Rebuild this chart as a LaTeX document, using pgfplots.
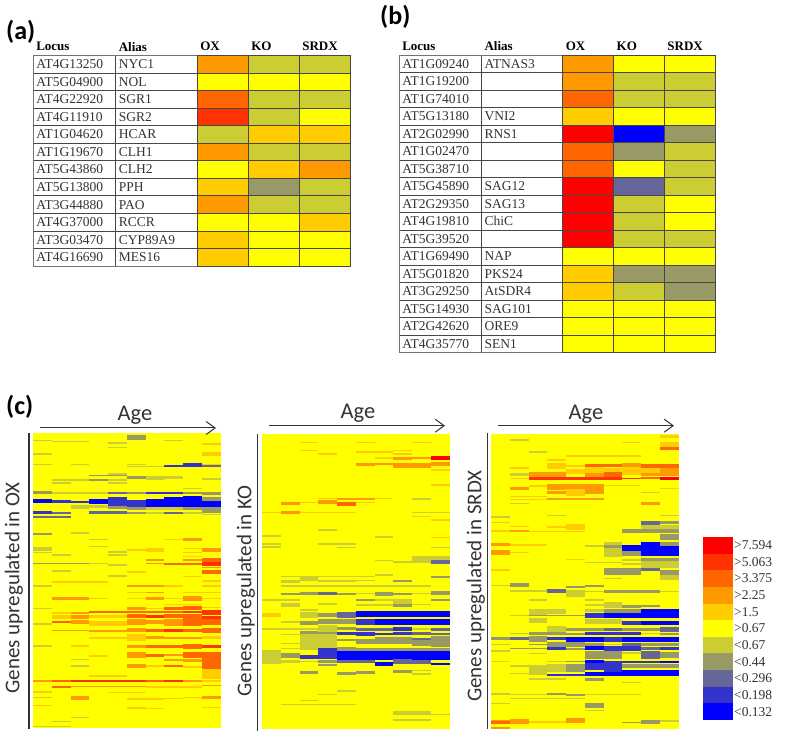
\documentclass[border=0pt]{standalone}
\usepackage{fontspec}
\setmainfont{Liberation Serif}
\newfontfamily\calib{Carlito}
\usepackage{pgfplots}
\usepackage{pgfplotstable}
\pgfplotsset{compat=1.18}
\usetikzlibrary{arrows.meta}

\definecolor{ink}{HTML}{333333}
\newcommand\tbfont{\fontsize{13.5bp}{14bp}\selectfont\color{ink}}
\newcommand\hdfont{\fontsize{13bp}{14bp}\selectfont\bfseries\color{black}}
\newcommand\agefont{\fontsize{22.5bp}{24bp}\selectfont\calib\color{ink}}
\newcommand\genesfont{\fontsize{21bp}{24bp}\selectfont\calib\color{ink}}
\newcommand\panelfont{\fontsize{26bp}{28bp}\selectfont\calib\bfseries\color{black}}

% one rectangle: starts at the point, w columns wide, h zoomed px high
\pgfdeclareplotmark{cell}{%
  \pgfpathrectangle{\pgfpoint{0pt}{-\ch*0.16667bp}}{\pgfpoint{\cw*18.75bp}{\ch*0.33333bp}}%
  \pgfusepathqfill}
\pgfdeclareplotmark{framedcell}{%
  \pgfpathrectangle{\pgfpoint{0pt}{-\ch*0.16667bp}}{\pgfpoint{\cw*18.75bp}{\ch*0.33333bp}}%
  \pgfusepathqfillstroke}

\pgfplotsset{
  colormap={level}{
    rgb255(0)=(0,0,255) rgb255(1)=(51,51,204) rgb255(2)=(102,102,153)
    rgb255(3)=(153,153,102) rgb255(4)=(204,204,51) rgb255(5)=(255,255,0)
    rgb255(6)=(255,204,0) rgb255(7)=(255,153,0) rgb255(8)=(255,102,0)
    rgb255(9)=(255,51,0) rgb255(10)=(255,0,0)},
  levels/.style={colormap name=level, point meta min=0, point meta max=10},
  tbl/.style={levels, scale only axis, y dir=reverse, clip=false,
    xmin=-3.22, xmax=3, xtick={-3.22,-1.6,0,1,2,3},
    xticklabels={}, yticklabels={}, tick style={draw=none},
    grid=major, grid style={color=black!72, line width=0.8bp},
    axis line style={color=black!55, line width=0.8bp}},
  heat/.style={levels, scale only axis, hide axis, width=187.5bp, height=295bp,
    xmin=0, xmax=10, y dir=reverse, clip=true, anchor=south west},
  cells/.style={scatter, only marks, mark=cell, scatter src=explicit,
    visualization depends on={\thisrow{w} \as \cw},
    visualization depends on={\thisrow{h}+1.5 \as \ch}},
  rowcells/.style={scatter, only marks, mark=framedcell, scatter src=explicit,
    scatter/use mapped color={fill=mapped color, draw=black!72},
    mark options={line width=0.8bp},
    visualization depends on={2.72 \as \cw},
    visualization depends on={52.6 \as \ch}},
  keycells/.style={scatter, only marks, mark=cell, scatter src=explicit,
    visualization depends on={1.6 \as \cw},
    visualization depends on={50 \as \ch}},
}
\newcommand\tabrow[3]{%
  \node[anchor=west,inner sep=0pt,font=\tbfont] at (axis cs:-3.16,#1) {#2};
  \node[anchor=west,inner sep=0pt,font=\tbfont] at (axis cs:-1.54,#1) {#3};}
\newcommand\tabhead{%
  \node[anchor=west,inner sep=0pt,font=\hdfont] at (axis cs:-3.16,-1) {Locus};
  \node[anchor=west,inner sep=0pt,font=\hdfont] at (axis cs:-1.54,-1) {Alias};
  \node[anchor=west,inner sep=0pt,font=\hdfont] at (axis cs:0.06,-1) {OX};
  \node[anchor=west,inner sep=0pt,font=\hdfont] at (axis cs:1.06,-1) {KO};
  \node[anchor=west,inner sep=0pt,font=\hdfont] at (axis cs:2.06,-1) {SRDX};}

\pgfplotstableread{
x w y h c
0 10 573.5 883 5
0 1 155 3 4
1 2 158 3 4
5 1 145 13 3
7 1 155 3 4
4 1 163 4 4
4 1 175 3 4
9 1 165 3 6
0 1 195 3 4
9 1 195 8 6
0 1 226 3 4
2 1 226 3 4
5 1 226 3 4
9 1 226 3 6
5 2 233 3 4
7 1 232 5 1
8 1 228 8 1
9 1 232 5 2
4 1 255 4 4
3 2 259 3 3
5 1 265 9 3
6 1 266 12 4
7 1 266 8 4
1 2 272 3 4
3 1 272 4 3
4 1 272 4 4
9 1 270 3 4
1 1 281 3 4
4 1 282 3 4
8 1 298 3 4
0 1 310 6 3
1 2 311 4 4
3 1 311 4 4
4 1 312 6 2
5 1 312 5 3
6 2 311 6 1
8 1 312 5 3
9 1 313 5 3
0 1 335 10 0
1 1 337 10 1
2 1 339 6 1
3 1 337 14 0
4 1 337 24 1
5 1 343 18 1
6 1 342 24 0
7 1 339 28 0
8 1 337 30 0
9 1 330 10 3
9 1 344 17 0
2 1 354 11 4
3 1 352 8 4
4 1 355 6 3
5 1 358 6 3
6 2 359 7 4
8 1 358 8 3
9 1 363 16 3
0 1 371 7 1
1 1 371 5 2
3 1 370 5 2
4 1 371 8 2
5 1 371 5 3
6 1 372 3 4
7 1 372 5 2
8 1 372 3 4
9 1 376 4 4
0 1 384 4 2
1 1 384 4 2
0 1 434 6 3
2 1 431 4 4
3 1 451 3 4
3 1 472 3 4
7 1 451 3 6
8 1 452 8 7
0 1 476 3 4
0 1 482 3 4
0 1 490 3 4
4 1 488 3 4
4 1 497 3 4
1 1 497 3 4
5 1 482 3 6
6 1 482 12 6
8 1 478 3 6
8 1 490 3 6
9 1 482 10 7
8 1 502 3 6
6 1 512 3 7
8 1 512 5 7
9 1 512 8 8
0 3 523 3 3
3 1 523 3 4
4 1 527 3 4
6 1 523 3 7
7 1 523 5 8
8 1 524 6 8
9 1 525 10 9
1 1 545 3 4
9 1 547 10 8
5 1 548 3 6
9 1 535 3 7
4 1 560 3 4
8 1 562 3 6
1 3 578 3 6
9 1 575 3 6
0 1 590 3 4
5 2 590 5 7
7 1 590 3 6
9 1 590 3 6
5 1 610 3 6
6 1 610 3 7
8 1 610 3 6
9 1 610 3 6
1 2 628 7 7
3 1 628 3 6
5 1 628 3 6
6 1 628 7 7
7 1 628 3 6
8 1 628 12 7
9 1 628 3 6
7 2 645 3 6
0 1 657 3 4
5 1 657 8 7
6 1 657 3 6
7 1 657 8 8
8 1 657 10 8
9 1 655 3 6
3 2 668 5 8
5 1 668 6 8
1 1 672 4 6
2 1 672 4 7
6 1 668 6 8
7 1 668 6 8
8 1 668 7 9
9 1 670 12 9
1 1 682 10 6
2 1 682 10 7
3 2 682 9 6
5 1 680 10 8
6 1 681 8 9
7 1 681 10 8
8 1 681 12 8
9 1 684 10 9
1 1 697 5 8
2 1 698 10 7
3 2 702 12 6
5 1 698 15 7
6 1 698 12 7
7 1 698 20 7
8 1 698 20 8
9 1 697 16 8
0 1 703 3 4
1 2 723 4 7
3 1 724 3 7
4 1 724 5 7
5 1 722 12 7
6 1 723 8 8
7 1 723 8 9
8 1 723 10 8
9 1 723 12 8
3 2 745 3 6
5 1 745 20 6
6 1 745 8 7
7 2 745 5 7
9 1 745 8 6
0 1 770 3 4
2 1 770 3 6
5 1 771 10 7
6 1 771 8 8
7 1 771 10 8
8 1 771 14 8
9 1 771 10 9
5 1 797 15 7
6 1 797 8 8
7 1 797 5 7
8 1 797 17 8
9 1 797 20 8
3 1 800 3 6
2 1 810 3 4
7 1 812 3 7
8 1 813 6 7
9 1 824 30 8
2 1 830 4 4
5 1 830 12 7
6 1 830 3 6
7 1 830 6 8
8 1 832 3 6
9 1 854 28 6
3 2 860 3 6
0 1 875 4 7
1 1 875 5 8
2 3 875 5 9
5 1 875 5 9
6 1 875 5 8
7 1 875 5 9
8 1 875 4 7
9 1 875 4 6
1 1 892 6 8
2 4 891 3 7
6 3 892 3 6
9 1 888 3 7
0 1 907 3 6
4 2 908 3 6
0 1 923 3 4
2 1 926 10 7
5 2 928 3 6
7 1 927 3 6
8 1 923 3 6
9 1 923 6 7
0 1 948 3 6
5 1 954 4 6
6 1 957 3 6
9 1 954 3 6
2 1 984 3 4
1 1 995 3 4
0 2 1011 3 4
}\tabOX

\pgfplotstableread{
x w y h c
0 10 574.5 885 5
2 1 157 3 6
5 1 157 3 6
8 1 157 3 6
2 1 181 3 6
5 2 186 3 6
7 1 181 3 6
3 1 192 3 6
7 1 192 3 6
6 1 204 3 6
7 1 205 6 7
8 1 205 5 7
9 1 204 8 10
5 1 224 8 7
6 1 222 6 7
7 1 226 12 7
8 1 226 12 7
9 1 222 8 7
9 1 240 3 6
9 1 285 3 6
3 1 326 3 6
4 2 326 4 7
6 1 326 3 6
8 1 326 4 4
2 1 337 3 6
3 1 335 10 7
1 1 341 8 7
4 1 342 8 8
5 1 338 3 6
0 1 367 3 6
1 1 367 6 7
2 3 367 3 6
8 2 367 3 4
8 1 380 3 6
9 1 390 3 6
3 1 420 4 4
0 1 437 4 4
6 1 442 5 4
9 1 442 3 6
0 1 461 4 4
3 2 461 4 4
0 1 472 4 4
4 1 472 3 4
9 1 472 3 4
8 2 505 12 4
6 1 512 3 4
7 1 516 3 4
8 1 516 3 4
9 1 516 8 2
6 1 555 6 4
1 5 560 3 4
9 1 560 5 3
2 1 566 14 4
1 1 575 6 4
3 2 573 3 4
5 1 572 3 4
7 1 574 5 3
1 8 588 3 4
1 1 611 5 3
2 1 611 6 3
3 1 611 6 2
4 1 611 5 3
5 1 611 3 4
6 1 611 10 3
7 1 611 5 3
8 1 611 3 4
9 1 609 10 3
0 2 630 3 4
5 1 630 6 3
7 1 634 12 4
9 1 630 5 3
6 1 630 3 4
1 1 645 8 4
3 1 642 3 4
5 2 645 3 4
7 1 646 8 3
8 1 644 3 4
2 1 660 3 4
0 1 674 10 6
2 1 675 14 4
3 1 675 12 3
4 1 675 14 2
5 5 672 17 0
1 1 696 6 4
2 1 698 10 3
3 2 695 15 3
5 1 695 16 1
6 4 695 17 0
0 2 717 3 4
2 1 717 3 4
3 1 725 40 4
4 1 716 6 3
5 1 718 8 2
6 1 718 8 2
7 1 717 8 1
8 1 717 3 4
9 1 719 8 2
1 1 733 3 4
2 1 728 10 3
3 1 730 5 3
4 1 731 8 1
5 1 731 10 1
6 1 731 5 1
7 1 731 8 1
8 1 731 6 2
9 1 731 5 2
2 1 757 46 4
3 1 757 36 4
4 1 750 5 3
5 1 755 15 3
6 1 752 20 3
7 1 752 20 3
8 1 758 18 3
9 1 755 30 3
8 1 746 5 2
1 1 760 3 4
1 1 775 3 4
4 1 778 10 3
5 5 780 10 3
0 1 800 40 4
1 1 796 14 3
2 1 800 10 1
3 1 791 32 1
4 6 796 24 0
1 1 815 8 4
2 1 815 3 4
3 1 815 6 3
4 1 815 8 2
5 1 815 6 2
6 1 822 8 0
7 1 815 14 2
8 1 816 8 2
9 1 822 6 0
3 1 825 3 3
2 1 848 6 3
4 1 850 6 3
5 1 847 8 3
7 1 845 6 3
8 1 841 3 4
8 1 852 3 4
4 1 903 3 4
3 1 914 3 4
2 1 932 3 4
1 4 943 3 4
7 2 969 8 4
9 1 973 3 4
7 2 990 4 4
}\tabKO

\pgfplotstableread{
x w y h c
0 10 574.5 885 5
9 1 140 6 6
1 1 150 4 4
7 1 157 3 6
9 1 165 14 6
9 1 175 6 8
2 1 186 3 4
4 4 198 3 6
3 1 210 3 6
3 1 228 14 6
4 1 228 3 6
5 1 227 8 8
6 1 227 8 8
7 1 226 10 7
8 1 228 12 8
9 1 228 12 8
1 1 234 3 6
4 1 245 14 6
5 1 243 20 6
6 1 243 14 6
7 1 243 24 6
8 1 242 14 6
9 1 246 24 7
1 1 253 6 4
2 1 254 16 7
3 1 254 16 7
5 1 254 10 7
6 1 254 16 8
8 1 253 6 7
1 1 265 3 6
2 5 265 6 9
7 1 265 3 9
8 1 265 4 8
9 1 265 6 10
2 1 288 3 6
3 1 291 14 7
4 1 291 14 7
5 1 291 14 7
6 2 287 3 6
1 1 296 8 7
9 1 296 3 6
3 1 308 8 7
4 1 308 20 6
5 1 306 8 7
8 1 308 3 4
1 2 320 3 6
1 2 328 3 6
3 3 327 5 7
1 1 340 3 4
8 1 341 6 7
3 1 377 3 4
9 1 377 3 4
0 1 381 3 4
0 1 397 3 6
8 1 399 8 2
9 1 398 8 3
1 1 410 3 6
3 1 411 3 6
4 1 412 16 6
8 1 412 14 4
9 1 412 14 4
0 1 423 3 6
1 1 423 6 7
2 3 424 3 6
7 3 423 8 3
9 1 441 14 3
6 1 462 10 4
0 1 463 6 7
1 2 465 3 6
5 1 469 4 4
6 1 472 14 3
7 1 474 16 0
8 1 477 38 0
9 1 461 10 3
9 1 482 28 0
0 1 487 14 7
1 1 487 3 6
6 1 488 24 4
7 1 490 12 3
4 1 508 3 6
7 1 510 3 4
8 1 509 10 3
9 1 510 10 3
5 2 518 3 4
7 1 522 3 4
8 1 523 20 4
9 1 523 20 4
0 1 540 3 6
6 2 544 18 3
8 1 538 8 2
9 1 550 20 3
6 1 565 3 4
9 1 562 12 4
0 1 586 3 4
1 1 585 8 3
4 1 590 4 3
5 1 588 6 3
1 2 603 3 4
3 1 603 8 2
4 1 610 20 4
5 1 604 3 4
6 3 604 6 3
9 1 604 3 4
2 1 630 3 4
5 1 630 3 4
5 1 645 3 4
6 1 645 14 4
7 1 650 6 3
8 1 648 5 3
2 1 665 16 4
3 1 665 14 4
5 1 662 8 4
6 2 663 8 3
8 1 664 10 0
9 1 664 14 0
1 1 677 3 4
2 2 677 3 3
4 1 677 3 3
5 1 676 14 1
6 4 676 14 0
2 1 691 14 4
5 1 695 12 4
6 1 695 12 4
7 1 700 10 1
8 2 700 10 0
3 1 716 16 4
4 2 718 8 3
6 1 718 8 2
7 2 718 8 3
9 1 718 14 2
1 1 730 3 4
2 2 731 6 3
4 1 731 5 3
5 3 731 6 1
8 1 731 3 4
9 1 731 4 3
0 1 746 6 3
1 1 746 6 2
2 1 748 16 3
3 1 746 6 1
4 2 748 12 0
6 1 748 12 1
7 3 748 12 0
0 1 763 3 4
2 1 764 3 3
3 2 763 14 3
5 1 763 8 3
6 1 763 3 4
7 1 763 6 2
8 1 763 6 3
9 1 763 6 3
1 2 776 3 3
3 1 776 8 1
4 1 776 5 3
5 1 774 12 0
6 2 775 12 1
8 1 775 6 2
9 1 775 8 1
0 1 783 3 4
2 1 790 3 4
5 2 795 20 3
7 1 788 5 4
8 1 795 20 2
9 1 795 18 3
0 1 815 3 6
3 1 815 3 4
4 1 815 3 3
5 1 816 8 0
6 3 816 6 1
9 1 816 6 0
5 1 830 20 1
6 1 832 25 1
7 3 828 12 3
1 1 828 3 4
3 1 834 24 4
2 1 840 30 4
4 1 834 25 3
1 1 851 3 4
3 2 855 5 1
5 2 852 8 0
7 3 849 18 0
2 2 867 3 4
5 1 868 6 3
7 1 877 3 4
0 1 912 3 4
1 2 914 3 4
3 1 912 6 3
4 1 914 4 3
5 3 914 3 4
1 4 926 3 4
0 1 940 3 4
5 1 947 12 3
5 1 962 3 4
0 1 991 3 7
0 1 997 6 8
1 1 994 12 7
2 2 996 3 6
4 1 992 12 7
7 1 998 3 3
8 1 996 12 3
9 1 992 5 4
0 1 1013 5 7
}\tabSR

\begin{document}
\begin{tikzpicture}
\path[use as bounding box] (0bp,0bp) rectangle (787bp,747bp);

% panel (a)
\begin{axis}[tbl, at={(33bp,481bp)}, anchor=south west, width=317bp, height=210.5bp,
    ymin=-0.5, ymax=11.5, ytick={-0.5,0.5,...,11.5}]
\addplot[rowcells] table[meta=c] {
x y c
0 0 7
1 0 4
2 0 4
0 1 5
1 1 5
2 1 5
0 2 8
1 2 4
2 2 4
0 3 9
1 3 4
2 3 5
0 4 4
1 4 6
2 4 6
0 5 7
1 5 4
2 5 4
0 6 5
1 6 6
2 6 7
0 7 6
1 7 3
2 7 4
0 8 7
1 8 4
2 8 4
0 9 5
1 9 5
2 9 6
0 10 6
1 10 5
2 10 5
0 11 6
1 11 5
2 11 5
};
\tabhead
\tabrow{0}{AT4G13250}{NYC1}
\tabrow{1}{AT5G04900}{NOL}
\tabrow{2}{AT4G22920}{SGR1}
\tabrow{3}{AT4G11910}{SGR2}
\tabrow{4}{AT1G04620}{HCAR}
\tabrow{5}{AT1G19670}{CLH1}
\tabrow{6}{AT5G43860}{CLH2}
\tabrow{7}{AT5G13800}{PPH}
\tabrow{8}{AT3G44880}{PAO}
\tabrow{9}{AT4G37000}{RCCR}
\tabrow{10}{AT3G03470}{CYP89A9}
\tabrow{11}{AT4G16690}{MES16}
\end{axis}

% panel (b)
\begin{axis}[tbl, at={(399bp,394.3bp)}, anchor=south west, width=316bp, height=297.7bp,
    ymin=-0.5, ymax=16.5, ytick={-0.5,0.5,...,16.5}]
\addplot[rowcells] table[meta=c] {
x y c
0 0 7
1 0 5
2 0 5
0 1 7
1 1 4
2 1 4
0 2 8
1 2 4
2 2 4
0 3 6
1 3 5
2 3 5
0 4 10
1 4 0
2 4 3
0 5 8
1 5 3
2 5 4
0 6 8
1 6 5
2 6 4
0 7 10
1 7 2
2 7 4
0 8 10
1 8 4
2 8 5
0 9 10
1 9 4
2 9 5
0 10 10
1 10 4
2 10 4
0 11 5
1 11 5
2 11 5
0 12 6
1 12 3
2 12 3
0 13 6
1 13 4
2 13 3
0 14 5
1 14 5
2 14 5
0 15 5
1 15 5
2 15 5
0 16 5
1 16 5
2 16 5
};
\tabhead
\tabrow{0}{AT1G09240}{ATNAS3}
\tabrow{1}{AT1G19200}{}
\tabrow{2}{AT1G74010}{}
\tabrow{3}{AT5G13180}{VNI2}
\tabrow{4}{AT2G02990}{RNS1}
\tabrow{5}{AT1G02470}{}
\tabrow{6}{AT5G38710}{}
\tabrow{7}{AT5G45890}{SAG12}
\tabrow{8}{AT2G29350}{SAG13}
\tabrow{9}{AT4G19810}{ChiC}
\tabrow{10}{AT5G39520}{}
\tabrow{11}{AT1G69490}{NAP}
\tabrow{12}{AT5G01820}{PKS24}
\tabrow{13}{AT3G29250}{AtSDR4}
\tabrow{14}{AT5G14930}{SAG101}
\tabrow{15}{AT2G42620}{ORE9}
\tabrow{16}{AT4G35770}{SEN1}
\end{axis}

% panel (c) heat maps
\begin{axis}[heat, at={(33bp,19bp)}, ymin=132, ymax=1015]
\addplot[cells] table[x=x,y=y,meta=c] {\tabOX};
\end{axis}
\begin{axis}[heat, at={(262bp,18bp)}, ymin=132, ymax=1017]
\addplot[cells] table[x=x,y=y,meta=c] {\tabKO};
\end{axis}
\begin{axis}[heat, at={(491bp,18bp)}, ymin=132, ymax=1017]
\addplot[cells] table[x=x,y=y,meta=c] {\tabSR};
\end{axis}

% colour key
\begin{axis}[levels, scale only axis, at={(703bp,27bp)}, anchor=south west,
    width=29.5bp, height=183bp, xmin=0, xmax=1, ymin=-0.5, ymax=10.5,
    xtick=\empty, ytick={0,...,10}, yticklabel pos=right, tick style={draw=none},
    yticklabels={<0.132,<0.198,<0.296,<0.44,<0.67,>0.67,>1.5,>2.25,>3.375,>5.063,>7.594},
    yticklabel style={font=\tbfont, inner sep=1.5bp, anchor=west},
    axis line style={draw=none}]
\addplot[keycells] table[meta=c] {
x y c
0 0 0
0 1 1
0 2 2
0 3 3
0 4 4
0 5 5
0 6 6
0 7 7
0 8 8
0 9 9
0 10 10
};
\end{axis}

% labels, arrows and side rules
\begin{scope}[x=1bp,y=1bp]
\node[anchor=west,inner sep=0pt,font=\panelfont] at (6,715) {(a)};
\node[anchor=west,inner sep=0pt,font=\panelfont] at (380,730) {(b)};
\node[anchor=west,inner sep=0pt,font=\panelfont] at (6,340) {(c)};
\node[inner sep=0pt,font=\agefont] at (135,332) {Age};
\node[inner sep=0pt,font=\agefont] at (358,334) {Age};
\node[inner sep=0pt,font=\agefont] at (586,333) {Age};
\node[inner sep=0pt,rotate=90,font=\genesfont] at (14,159) {Genes upregulated in OX};
\node[inner sep=0pt,rotate=90,font=\genesfont] at (246,156) {Genes upregulated in KO};
\node[inner sep=0pt,rotate=90,font=\genesfont] at (476,161) {Genes upregulated in SRDX};
\begin{scope}[color=ink, line width=1bp, -{Straight Barb[length=9bp,width=13bp]}]
\draw (40,319) -- (216,319);
\draw (269,321.3) -- (445,321.3);
\draw (497.7,321.3) -- (674,321.3);
\end{scope}
\begin{scope}[color=ink, line width=1.3bp]
\draw (29,18) -- (29,314);
\draw (257.7,16) -- (257.7,313);
\draw (487.7,18) -- (487.7,314);
\end{scope}
\end{scope}
\end{tikzpicture}
\end{document}
